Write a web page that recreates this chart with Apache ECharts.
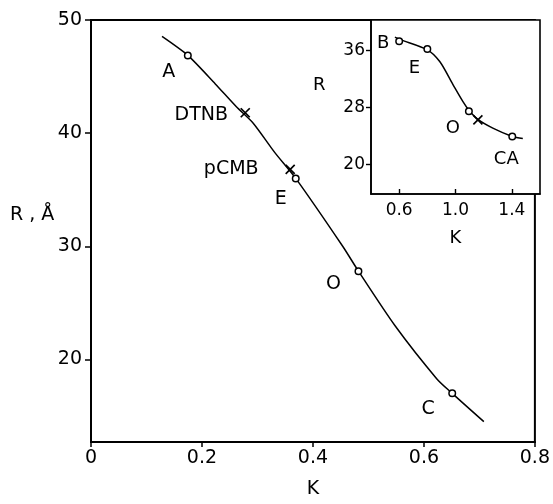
<!DOCTYPE html>
<html><head><meta charset="utf-8">
<script src="https://cdn.jsdelivr.net/npm/echarts@6/dist/echarts.min.js"></script>
<style>html,body{margin:0;padding:0;background:#fff}#c{width:553px;height:504px}</style>
</head><body><div id="c"></div>
<script>
// ---- data (main plot) ----
const mainCurveK = [0.128,0.1745,0.224,0.262,0.292,0.331,0.369,0.4536,0.482,0.548,0.623,0.651,0.708];
const mainCurveR = [48.55,46.87,44.35,42.33,40.9,38.3,36.0,30.0,27.8,22.97,18.3,17.0,14.5];
const mainPointNames = ['A','E','O','C'];
const mainPointK = [0.1745,0.369,0.482,0.651];
const mainPointR = [46.87,36.0,27.8,17.0];
const mainCrossNames = ['DTNB','pCMB'];
const mainCrossK = [0.278,0.359];
const mainCrossR = [41.8,36.8];
const mainXTicks = [0,0.2,0.4,0.6,0.8];
const mainYTicks = [20,30,40,50];
// ---- data (inset) ----
const insetCurveK = [0.57,0.6,0.8,0.888,0.982,1.053,1.095,1.159,1.265,1.403,1.478];
const insetCurveR = [37.9,37.6,36.1,34.45,31.2,28.8,27.6,26.3,25.07,23.9,23.6];
const insetPointNames = ['B','E','O','CA'];
const insetPointK = [0.6,0.8,1.095,1.403];
const insetPointR = [37.3,36.2,27.44,23.9];
const insetCrossK = [1.159];
const insetCrossR = [26.24];
const insetXTicks = [0.6,1.0,1.4];
const insetYTicks = [20,28,36];

// ---- styling ----
const FONT = 'DejaVu Sans';
const FS = 19;
const labelOffsets = {
  main: {A:[-19,17], E:[-15,21], O:[-25,13], C:[-24,16], DTNB:[-44,2], pCMB:[-59,0]},
  inset: {B:[-16,2], E:[-13,19], O:[-16,17], CA:[-6,23]}
};
const zip = (a,b) => a.map((v,i)=>[v,b[i]]);
const crossPath = 'path://M0,0L10,10M10,0L0,10';

function pointSeries(names, ks, rs, idx, offs, symbol, fs) {
  return {
    type:'scatter', xAxisIndex:idx, yAxisIndex:idx, z:5,
    symbol: symbol==='cross'? crossPath : 'circle',
    symbolSize: symbol==='cross'? 9 : 6.5,
    itemStyle: symbol==='cross'
      ? {color:'rgba(0,0,0,0)', borderColor:'#000', borderWidth:1.7, opacity:1}
      : {color:'#fff', borderColor:'#000', borderWidth:1.5, opacity:1},
    label:{show:!!names, position:['50%','50%'], align:'center', verticalAlign:'middle',
      color:'#000', fontFamily:FONT, fontSize:fs},
    data: ks.map((k,i)=>({
      value:[k, rs[i]],
      label: names ? {formatter:names[i], offset: offs[names[i]]} : {show:false}
    }))
  };
}

const axisLineStyle = {lineStyle:{color:'#000', width:2}};
const chart = echarts.init(document.getElementById('c'), null, {renderer:'canvas'});
chart.setOption({
  animation:false,
  backgroundColor:'#fff',
  grid:[
    {left:91, right:13, top:20, bottom:55, show:true, borderColor:'#000', borderWidth:2},
    {left:371, right:13, top:20, bottom:310, show:true, borderColor:'#000', borderWidth:1.6, backgroundColor:'#fff', z:3}
  ],
  xAxis:[
    {type:'value', gridIndex:0, min:0, max:0.8, interval:0.2,
     axisLine:axisLineStyle, axisTick:{length:5, lineStyle:{color:'#000', width:1.5}},
     splitLine:{show:false},
     axisLabel:{color:'#000', fontFamily:FONT, fontSize:FS, margin:7,
       formatter:v=> v===0 ? '0' : v.toFixed(1)},
     name:'K', nameLocation:'middle', nameGap:38,
     nameTextStyle:{color:'#000', fontFamily:FONT, fontSize:FS}},
    {type:'value', gridIndex:1, min:0.4, max:1.6,
     axisLine:{lineStyle:{color:'#000', width:1.6}},
     axisTick:{inside:true, length:5, customValues:insetXTicks, lineStyle:{color:'#000', width:1.4}},
     splitLine:{show:false},
     axisLabel:{customValues:insetXTicks, color:'#000', fontFamily:FONT, fontSize:17, margin:8,
       formatter:v=> v.toFixed(1)},
     name:'K', nameLocation:'middle', nameGap:35,
     nameTextStyle:{color:'#000', fontFamily:FONT, fontSize:18}, z:4}
  ],
  yAxis:[
    {type:'value', gridIndex:0, min:12.7, max:50,
     axisLine:axisLineStyle,
     axisTick:{length:6, customValues:mainYTicks, lineStyle:{color:'#000', width:1.5}},
     splitLine:{show:false},
     axisLabel:{customValues:mainYTicks, color:'#000', fontFamily:FONT, fontSize:FS, margin:9}},
    {type:'value', gridIndex:1, min:15.8, max:40.3,
     axisLine:{lineStyle:{color:'#000', width:1.6}},
     axisTick:{length:5, customValues:insetYTicks, lineStyle:{color:'#000', width:1.4}},
     splitLine:{show:false},
     axisLabel:{customValues:insetYTicks, color:'#000', fontFamily:FONT, fontSize:17, margin:6}, z:4}
  ],
  graphic:[
    {type:'text', left:10, top:206, style:{text:'R , Å', font:'19px "DejaVu Sans"', fill:'#000'}},
    {type:'text', left:313, top:76, style:{text:'R', font:'18px "DejaVu Sans"', fill:'#000'}}
  ],
  series:[
    {type:'line', xAxisIndex:0, yAxisIndex:0, smooth:0.25, showSymbol:false,
     lineStyle:{color:'#000', width:1.5}, data:zip(mainCurveK, mainCurveR)},
    pointSeries(mainPointNames, mainPointK, mainPointR, 0, labelOffsets.main, 'circle', FS),
    pointSeries(mainCrossNames, mainCrossK, mainCrossR, 0, labelOffsets.main, 'cross', FS),
    {type:'line', xAxisIndex:1, yAxisIndex:1, smooth:0.3, showSymbol:false, z:4,
     lineStyle:{color:'#000', width:1.5}, data:zip(insetCurveK, insetCurveR)},
    pointSeries(insetPointNames, insetPointK, insetPointR, 1, labelOffsets.inset, 'circle', 18),
    pointSeries(null, insetCrossK, insetCrossR, 1, {}, 'cross', 18)
  ]
});
</script></body></html>
